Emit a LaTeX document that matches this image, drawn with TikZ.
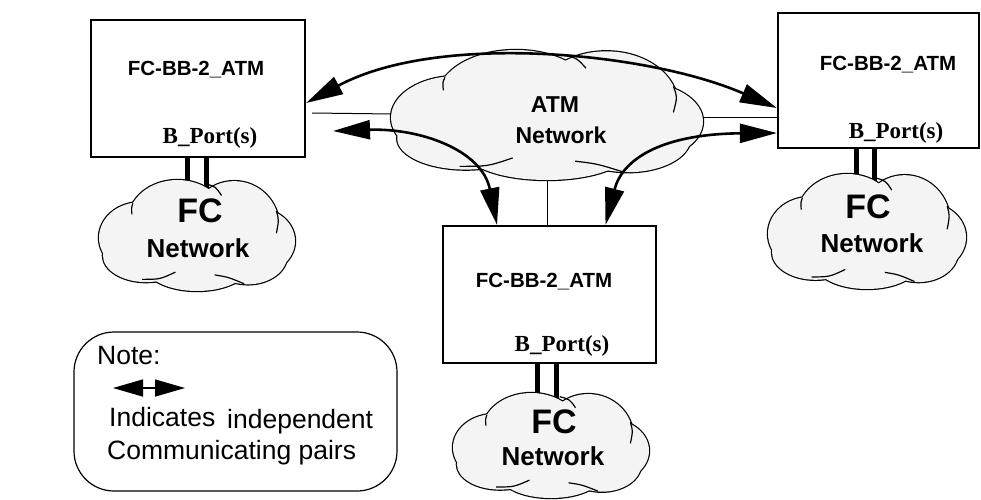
\documentclass[tikz,border=0pt]{standalone}
\usepackage{fontspec}
\setmainfont{Liberation Sans}
\newfontfamily\portfont{Liberation Serif}
\usetikzlibrary{arrows.meta,calc}

\definecolor{cloudgray}{RGB}{244,244,244}

\tikzset{
  devbox/.style={draw, line width=2.2pt, fill=white, inner sep=0pt},
  devlabel/.style={inner sep=0pt, anchor=base, font=\bfseries\fontsize{20.5}{24}\selectfont},
  portlabel/.style={inner sep=0pt, anchor=base, font=\portfont\bfseries\fontsize{23}{26}\selectfont},
  fclabel/.style={inner sep=0pt, anchor=base, font=\bfseries\fontsize{34}{38}\selectfont},
  netlabel/.style={inner sep=0pt, anchor=base, font=\bfseries\fontsize{26}{30}\selectfont},
  atmlabel/.style={inner sep=0pt, anchor=base, font=\bfseries\fontsize{23}{27}\selectfont},
  notelabel/.style={inner sep=0pt, anchor=base west, font=\fontsize{26.5}{30}\selectfont},
  notebox/.style={draw, line width=1.2pt, rounded corners=40pt, inner sep=0pt},
  portbar/.style={line width=5pt},
  thinlink/.style={line width=1pt},
  flow/.style={line width=2.6pt, {Triangle[length=37pt,width=19pt]}-{Triangle[length=37pt,width=19pt]}},
  notearrow/.style={line width=1.5pt, {Triangle[length=30pt,width=17pt]}-{Triangle[length=30pt,width=17pt]}},
  cloudedge/.style={draw=black, line width=2.4pt},
  cloudbody/.style={fill=cloudgray},
  cloudline/.style={draw=black, line width=1.2pt},
}

% cloud made of overlapping puffs: #1,#2 = top-left corner, #3 = width, #4 = height
\newcommand\drawcloud[4]{%
  \begin{scope}[shift={(#1,#2)}, xscale=#3, yscale=#4]
    \foreach \cx/\cy/\rx/\ry in {0.40/0.36/0.25/0.36, 0.69/0.42/0.23/0.41,
        0.80/0.55/0.20/0.30, 0.76/0.68/0.20/0.26, 0.50/0.78/0.26/0.22,
        0.24/0.68/0.22/0.24, 0.21/0.52/0.21/0.32, 0.50/0.52/0.33/0.33}
      \path[cloudedge] (\cx,\cy) ellipse [x radius=\rx, y radius=\ry];
    \foreach \cx/\cy/\rx/\ry in {0.40/0.36/0.25/0.36, 0.69/0.42/0.23/0.41,
        0.80/0.55/0.20/0.30, 0.76/0.68/0.20/0.26, 0.50/0.78/0.26/0.22,
        0.24/0.68/0.22/0.24, 0.21/0.52/0.21/0.32, 0.50/0.52/0.33/0.33}
      \path[cloudbody] (\cx,\cy) ellipse [x radius=\rx, y radius=\ry];
    \path[cloudline] (0.545,0.035) .. controls (0.595,0.06) .. (0.625,0.14);
    \path[cloudline] (0.173,0.21) .. controls (0.165,0.25) .. (0.168,0.31);
    \path[cloudline] (0.905,0.28) .. controls (0.918,0.36) .. (0.905,0.48);
    \path[cloudline] (0.22,0.895) .. controls (0.31,0.895) .. (0.39,0.83);
    \path[cloudline] (0.59,0.855) .. controls (0.66,0.875) .. (0.74,0.935);
  \end{scope}}

\begin{document}
\begin{tikzpicture}[x=1pt, y=-1pt]
  \fill[white] (0,0) rectangle (981,499);
  \useasboundingbox (0,0) rectangle (981,499);

  % the three bridge boxes
  \node[devbox, minimum width=214pt, minimum height=137pt] (lbox) at (198,88.5) {};
  \node[devbox, minimum width=201pt, minimum height=135pt] (rbox) at (878.5,80.5) {};
  \node[devbox, minimum width=213pt, minimum height=137pt] (mbox) at (549.5,294.5) {};

  % cloud reference points
  \coordinate (lcloud) at (197,235);
  \coordinate (rcloud) at (867,231);
  \coordinate (mcloud) at (551,445);
  \coordinate (atmW) at (393,114);
  \coordinate (atmE) at (702,117);
  \coordinate (atmS) at (547,178);
  \coordinate (lstub) at (312,113);

  % B_Port links down to the FC networks
  \draw[portbar] ([xshift=-11pt]lbox.south) -- ([xshift=-11pt]lbox.south |- lcloud);
  \draw[portbar] ([xshift=8pt]lbox.south) -- ([xshift=8pt]lbox.south |- lcloud);
  \draw[portbar] ([xshift=-22.5pt]rbox.south) -- ([xshift=-22.5pt]rbox.south |- rcloud);
  \draw[portbar] ([xshift=-4.5pt]rbox.south) -- ([xshift=-4.5pt]rbox.south |- rcloud);
  \draw[portbar] ([xshift=-12.5pt]mbox.south) -- ([xshift=-12.5pt]mbox.south |- mcloud);
  \draw[portbar] ([xshift=6.5pt]mbox.south) -- ([xshift=6.5pt]mbox.south |- mcloud);

  % thin links into the ATM network
  \draw[thinlink] (lstub) -- (atmW);
  \draw[thinlink] (atmE) -- (rbox.west |- atmE);
  \draw[thinlink] (atmS) -- (mbox.north -| atmS);

  % networks
  \drawcloud{99}{180}{196}{111}
  \drawcloud{768}{174}{198}{115}
  \drawcloud{453}{393}{196}{105}
  \drawcloud{391}{50}{312}{130}

  % labels
  \node[devlabel] (lname) at (196,75) {FC-BB-2\_ATM};
  \node[devlabel] (rname) at (888,70) {FC-BB-2\_ATM};
  \node[devlabel] (mname) at (544,287) {FC-BB-2\_ATM};
  \node[portlabel] (lport) at (210,143) {B\_Port(s)};
  \node[portlabel] (rport) at (896,138) {B\_Port(s)};
  \node[portlabel] (mport) at (562,351) {B\_Port(s)};
  \node[fclabel] (lfc) at (200,222) {FC};
  \node[netlabel] (lnet) at (198,257) {Network};
  \node[fclabel] (rfc) at (868,218) {FC};
  \node[netlabel] (rnet) at (872,252) {Network};
  \node[fclabel] (mfc) at (554,433) {FC};
  \node[netlabel] (mnet) at (553,465) {Network};
  \node[atmlabel] (atm) at (555,112) {ATM};
  \node[atmlabel] (atmnet) at (561,143) {Network};

  % communicating pairs
  \coordinate (lpair) at (333,131);
  \draw[flow] ([yshift=-14.5pt]lbox.east) .. controls (438,32) and (648,52) .. ([yshift=-27.5pt]rbox.west);
  \draw[flow] (lpair) .. controls (420,128) and (482,150) .. ([xshift=-52.5pt]mbox.north);
  \draw[flow] ([xshift=56pt]mbox.north) .. controls (622,160) and (660,134) .. ([yshift=-52.5pt]rbox.west);

  % legend
  \node[notebox, minimum width=323pt, minimum height=159pt] (note) at (235.5,411.5) {};
  \node[notelabel] (notetitle) at (97,364) {Note:};
  \coordinate (na1) at (113,388);
  \coordinate (na2) at (185,388);
  \draw[notearrow] (na1) -- (na2);
  \node[notelabel] (ind) at (109,426) {Indicates};
  \node[notelabel] (indep) at (227,428) {independent};
  \node[notelabel] (pairs) at (107,459) {Communicating pairs};
\end{tikzpicture}
\end{document}
